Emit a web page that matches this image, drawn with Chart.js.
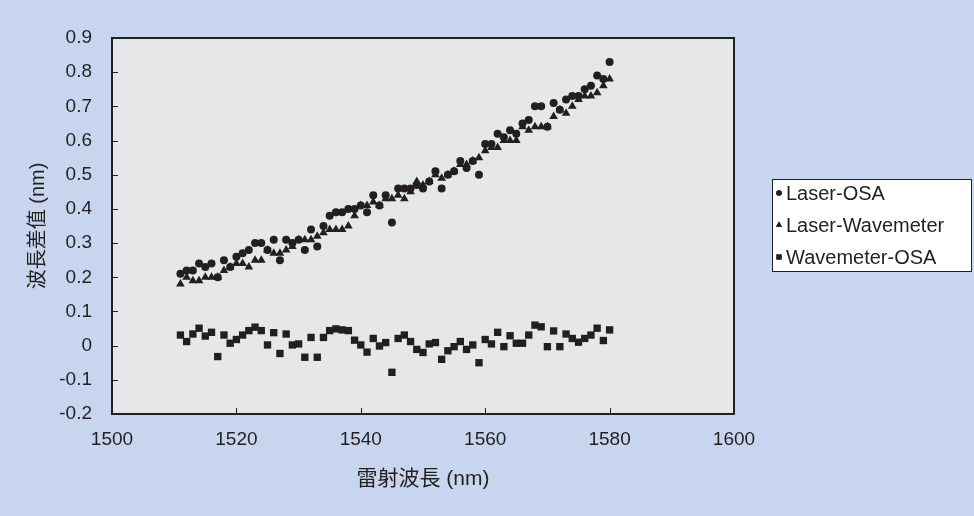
<!DOCTYPE html>
<html>
<head>
<meta charset="utf-8">
<script src="https://cdn.jsdelivr.net/npm/chart.js@4.4.1/dist/chart.umd.min.js"></script>
<style>
  html, body { margin: 0; padding: 0; background: #c7d6ee; }
  #wrap { width: 974px; height: 516px; }
</style>
</head>
<body>
<div id="wrap"><canvas id="chart" width="974" height="516"></canvas></div>
<script>
// wavelength (nm), one point per nm
const wavelengths = [];
for (let w = 1511; w <= 1580; w++) wavelengths.push(w);

const laserOsa = [
  0.21, 0.22, 0.22, 0.24, 0.23, 0.24, 0.20, 0.25, 0.23, 0.26,
  0.27, 0.28, 0.30, 0.30, 0.28, 0.31, 0.25, 0.31, 0.30, 0.31,
  0.28, 0.34, 0.29, 0.35, 0.38, 0.39, 0.39, 0.40, 0.40, 0.41,
  0.39, 0.44, 0.41, 0.44, 0.36, 0.46, 0.46, 0.46, 0.47, 0.46,
  0.48, 0.51, 0.46, 0.50, 0.51, 0.54, 0.52, 0.54, 0.50, 0.59,
  0.59, 0.62, 0.61, 0.63, 0.62, 0.65, 0.66, 0.70, 0.70, 0.64,
  0.71, 0.69, 0.72, 0.73, 0.73, 0.75, 0.76, 0.79, 0.78, 0.83
];
const laserWavemeter = [
  0.18, 0.20, 0.19, 0.19, 0.20, 0.20, 0.20, 0.22, 0.23, 0.24,
  0.24, 0.23, 0.25, 0.25, 0.28, 0.27, 0.27, 0.28, 0.29, 0.31,
  0.31, 0.31, 0.32, 0.33, 0.34, 0.34, 0.34, 0.35, 0.38, 0.41,
  0.41, 0.42, 0.41, 0.43, 0.43, 0.44, 0.43, 0.45, 0.48, 0.47,
  0.48, 0.50, 0.49, 0.50, 0.51, 0.53, 0.53, 0.54, 0.55, 0.57,
  0.58, 0.58, 0.60, 0.60, 0.60, 0.64, 0.63, 0.64, 0.64, 0.64,
  0.67, 0.69, 0.68, 0.70, 0.72, 0.73, 0.73, 0.74, 0.76, 0.78
];
const wavemeterOsa = [
  0.031, 0.012, 0.034, 0.051, 0.028, 0.039, -0.032, 0.031, 0.007, 0.018,
  0.031, 0.044, 0.054, 0.044, 0.002, 0.038, -0.023, 0.034, 0.002, 0.005,
  -0.034, 0.024, -0.034, 0.024, 0.044, 0.049, 0.046, 0.044, 0.016, 0.002,
  -0.019, 0.021, -0.001, 0.009, -0.078, 0.021, 0.031, 0.012, -0.011, -0.020,
  0.005, 0.009, -0.040, -0.015, -0.003, 0.012, -0.011, 0.002, -0.050, 0.018,
  0.005, 0.039, -0.003, 0.029, 0.007, 0.007, 0.031, 0.060, 0.055, -0.003,
  0.043, -0.003, 0.034, 0.021, 0.010, 0.021, 0.031, 0.051, 0.015, 0.046
];

const seriesNames = ['Laser-OSA', 'Laser-Wavemeter', 'Wavemeter-OSA'];
const xTitle = '雷射波長 (nm)';
const yTitle = '波長差值 (nm)';

const ink = '#231f20';
const fontFamily = 'Arial, "Liberation Sans", "Noto Sans CJK TC", sans-serif';

function toPoints(vals) {
  return vals.map((v, i) => ({ x: wavelengths[i], y: v }));
}

// page background, plot background, inward ticks and the legend box
const framePlugin = {
  id: 'frame',
  beforeDraw(chart) {
    const { ctx, chartArea: a } = chart;
    ctx.save();
    ctx.fillStyle = '#c7d6ee';
    ctx.fillRect(0, 0, chart.width, chart.height);
    ctx.fillStyle = '#e6e7e8';
    ctx.fillRect(a.left, a.top, a.right - a.left, a.bottom - a.top);
    ctx.restore();
  },
  afterDraw(chart) {
    const { ctx, chartArea: a } = chart;
    const xs = chart.scales.x, ys = chart.scales.y;
    ctx.save();
    ctx.strokeStyle = ink;
    ctx.lineWidth = 1;
    ctx.beginPath();
    ys.ticks.forEach(t => {
      const y = Math.round(ys.getPixelForValue(t.value)) + 0.5;
      ctx.moveTo(a.left, y);
      ctx.lineTo(a.left + 6, y);
    });
    xs.ticks.forEach(t => {
      const x = Math.round(xs.getPixelForValue(t.value)) + 0.5;
      ctx.moveTo(x, a.bottom);
      ctx.lineTo(x, a.bottom - 6);
    });
    ctx.stroke();
    ctx.lineWidth = 2;
    ctx.strokeRect(a.left, a.top, a.right - a.left, a.bottom - a.top);

    // legend
    const lx = 772, ly = 179, lw = 200, lh = 93;
    ctx.fillStyle = '#ffffff';
    ctx.fillRect(lx, ly, lw, lh);
    ctx.lineWidth = 1;
    ctx.strokeRect(lx + 0.5, ly + 0.5, lw - 1, lh - 1);
    ctx.font = '20px ' + fontFamily;
    ctx.textBaseline = 'middle';
    chart.data.datasets.forEach((ds, i) => {
      const cy = ly + 14 + i * 32;
      ctx.fillStyle = ink;
      Chart.helpers.drawPoint(ctx, {
        pointStyle: ds.pointStyle,
        radius: ds.pointRadius * 0.7,
        rotation: 0,
        borderWidth: 0
      }, lx + 7, cy);
      ctx.fill();
      ctx.fillText(ds.label, lx + 14, cy + 1);
    });
    ctx.restore();
  }
};

const ctx = document.getElementById('chart').getContext('2d');
new Chart(ctx, {
  type: 'scatter',
  data: {
    datasets: [
      { label: seriesNames[0], data: toPoints(laserOsa), pointStyle: 'circle', pointRadius: 4,
        backgroundColor: ink, borderColor: ink, borderWidth: 0 },
      { label: seriesNames[1], data: toPoints(laserWavemeter), pointStyle: 'triangle', pointRadius: 5,
        backgroundColor: ink, borderColor: ink, borderWidth: 0 },
      { label: seriesNames[2], data: toPoints(wavemeterOsa), pointStyle: 'rect', pointRadius: 5.2,
        backgroundColor: ink, borderColor: ink, borderWidth: 0 }
    ]
  },
  options: {
    responsive: false,
    animation: false,
    layout: { padding: { left: 0, top: 38, right: 240, bottom: 0 } },
    plugins: {
      legend: { display: false },
      tooltip: { enabled: false }
    },
    scales: {
      x: {
        type: 'linear',
        min: 1500, max: 1600,
        afterFit: s => { s.height = 102; },
        grid: { display: false, drawTicks: false },
        border: { display: false },
        ticks: {
          stepSize: 20, color: ink, padding: 14, font: { size: 19, family: fontFamily },
          callback: v => String(v)
        },
        title: { display: true, text: xTitle, color: ink, padding: { top: 4, bottom: 24 }, font: { size: 21, family: fontFamily } }
      },
      y: {
        type: 'linear',
        min: -0.2, max: 0.9,
        afterFit: s => { s.width = 112; },
        grid: { display: false, drawTicks: false },
        border: { display: false },
        ticks: {
          stepSize: 0.1, color: ink, padding: 20, font: { size: 19, family: fontFamily },
          callback: v => Math.abs(v) < 1e-9 ? '0' : v.toFixed(1)
        },
        title: { display: true, text: yTitle, color: ink, padding: { top: 26, bottom: 4 }, font: { size: 20, family: fontFamily } }
      }
    }
  },
  plugins: [framePlugin]
});
</script>
</body>
</html>
